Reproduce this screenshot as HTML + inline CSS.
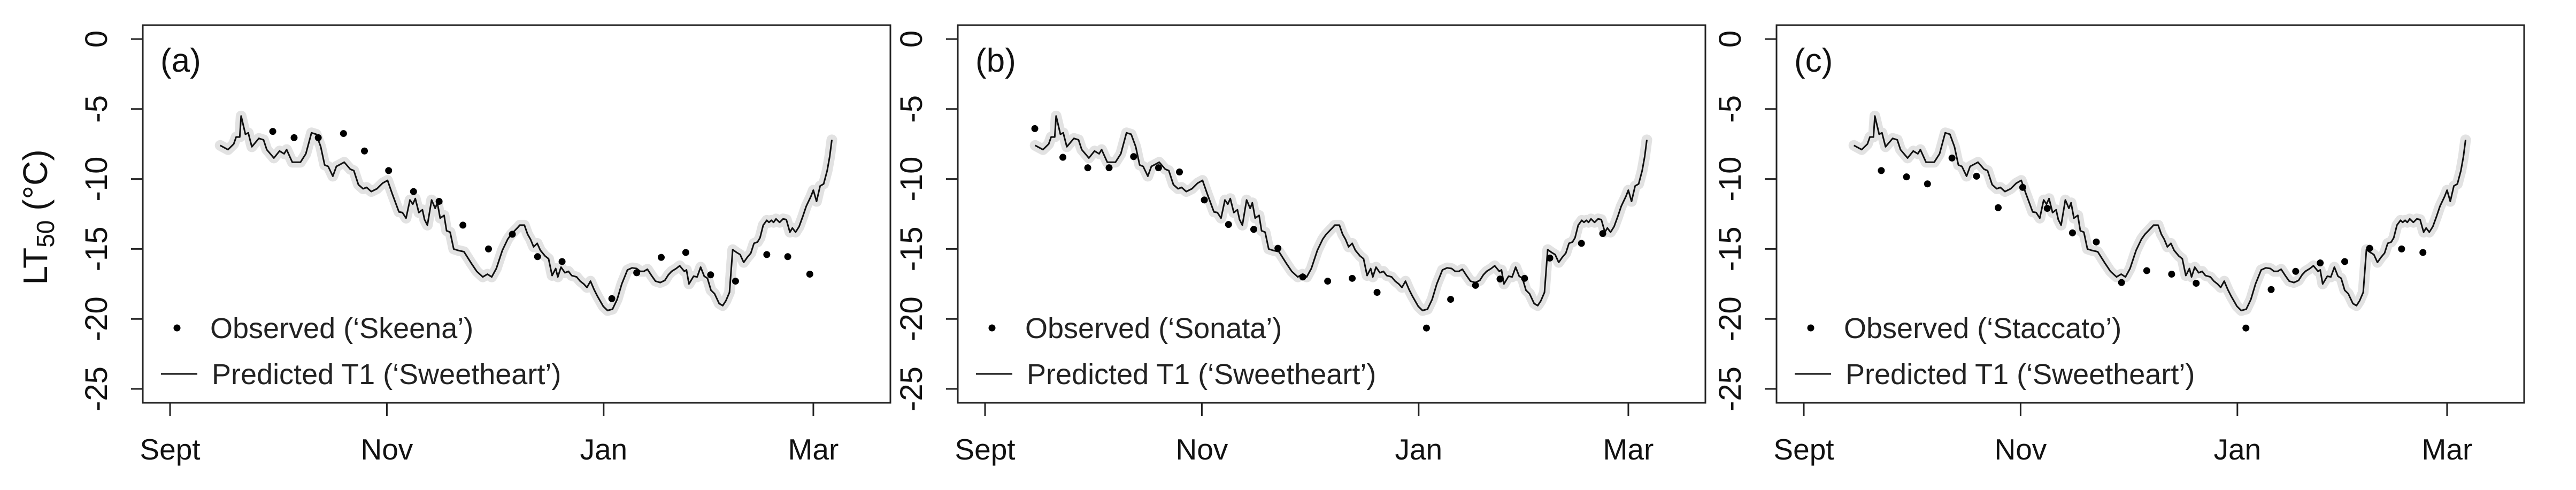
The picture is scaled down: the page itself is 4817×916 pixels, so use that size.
<!DOCTYPE html>
<html><head><meta charset="utf-8"><style>
html,body{margin:0;padding:0;background:#fff;}
svg{display:block;}
text{font-family:"Liberation Sans",Arial,sans-serif;}
</style></head><body>
<svg id="chart" width="4817" height="916" viewBox="0 0 4817 916" xmlns="http://www.w3.org/2000/svg"></svg>
<script>
// ---- data ----
const monthTickLabels = ["Sept","Nov","Jan","Mar"];
const monthTickDays = [0,61,122,181];
const yTickValues = [0,-5,-10,-15,-20,-25];
const panelLetters = ["(a)","(b)","(c)"];
const cultivarNames = ["Skeena","Sonata","Staccato"];
// Predicted T1 ('Sweetheart') — same curve in all panels
const predDays = [14.1,16.3,17.9,18.6,19.6,20.0,21.2,22.0,23.0,25.0,26.3,27.2,29.2,30.8,32.1,32.8,34.4,36.7,38.2,39.8,41.1,42.4,43.5,44.5,45.8,46.8,48.3,49.0,50.7,51.7,53.0,54.3,55.3,56.6,58.2,59.8,61.2,62.5,64.4,65.4,66.4,67.5,68.3,69.0,70.0,71.0,71.6,72.4,73.6,74.6,75.2,76.0,77.1,77.8,78.8,79.8,81.0,82.7,84.7,86.3,88.0,89.3,90.5,91.8,93.5,95.0,96.0,97.7,98.4,99.7,100.6,101.4,102.3,103.3,104.2,105.5,106.5,107.5,108.5,109.1,110.0,111.1,112.1,113.0,114.4,115.4,116.4,117.3,118.3,119.3,120.3,121.9,123.1,124.5,125.8,127.1,128.7,130.0,131.3,132.3,133.3,134.3,135.6,136.6,137.9,139.2,140.2,141.1,142.4,143.4,144.7,145.3,146.0,147.3,148.3,149.3,150.3,151.2,152.2,153.2,154.5,155.5,156.4,157.4,158.3,159.4,160.4,161.4,162.4,163.4,164.3,165.3,166.0,166.9,167.9,168.5,169.2,169.8,170.5,171.5,172.5,173.4,174.4,175.1,176.0,177.0,178.0,179.0,180.3,181.0,181.9,182.9,183.9,184.9,185.6,186.2];
const predValues = [-7.6,-7.9,-7.5,-7.0,-7.0,-5.5,-6.8,-6.7,-7.7,-7.1,-7.2,-7.9,-8.5,-8.0,-8.2,-7.9,-8.8,-8.8,-8.2,-6.7,-6.8,-7.7,-9.0,-9.1,-9.8,-9.1,-8.9,-8.8,-9.3,-9.4,-10.4,-10.7,-10.6,-10.9,-10.7,-10.3,-10.1,-11.05,-12.35,-12.4,-12.8,-11.5,-11.8,-11.4,-12.4,-12.2,-12.9,-13.3,-11.5,-12.1,-11.7,-12.8,-12.6,-13.7,-13.8,-15.0,-15.1,-15.2,-16.0,-16.6,-17.0,-16.8,-17.0,-16.4,-15.1,-14.3,-13.95,-13.5,-13.3,-13.3,-13.95,-14.3,-14.85,-14.6,-15.1,-15.5,-15.7,-16.9,-16.4,-17.0,-16.3,-16.7,-16.6,-16.9,-17.0,-17.3,-17.5,-17.75,-17.3,-17.9,-18.4,-19.1,-19.4,-19.3,-18.6,-17.5,-16.5,-16.35,-16.4,-16.6,-16.6,-16.45,-16.95,-17.3,-17.4,-17.25,-16.85,-16.6,-16.4,-16.2,-16.6,-16.5,-17.5,-16.95,-17.0,-16.3,-16.95,-17.1,-17.95,-18.2,-18.9,-19.05,-18.7,-18.1,-15.05,-15.25,-15.4,-15.96,-15.6,-15.3,-14.6,-14.5,-14.2,-13.3,-12.95,-13.1,-12.95,-13.1,-12.85,-13.1,-12.85,-12.9,-13.8,-13.5,-13.8,-13.4,-12.7,-11.95,-11.25,-10.8,-11.6,-10.5,-10.35,-9.4,-8.4,-7.2];
// Observed
const obsDaysA = [28.9,34.9,41.7,48.8,54.7,61.5,68.5,75.7,82.4,89.6,96.3,103.4,110.3,124.3,131.3,138.2,145.1,152.1,159.1,167.9,173.8,180.0];
const obsValuesA = [-6.6,-7.05,-7.05,-6.75,-8.0,-9.4,-10.9,-11.6,-13.3,-15.0,-13.95,-15.55,-15.9,-18.55,-16.7,-15.6,-15.25,-16.85,-17.3,-15.4,-15.55,-16.8];
const obsDaysB = [14.0,21.9,28.9,34.9,41.8,48.8,54.7,61.7,68.5,75.6,82.4,89.4,96.4,103.3,110.3,124.2,131.0,138.0,144.9,151.8,158.9,167.8,173.8];
const obsValuesB = [-6.4,-8.45,-9.2,-9.2,-8.4,-9.2,-9.5,-11.5,-13.25,-13.6,-14.95,-17.0,-17.3,-17.1,-18.1,-20.65,-18.6,-17.6,-17.15,-17.1,-15.65,-14.6,-13.9];
const obsDaysC = [21.8,28.9,34.8,41.7,48.6,54.7,61.6,68.5,75.6,82.3,89.4,96.5,103.5,110.4,124.4,131.5,138.4,145.3,152.2,159.2,168.2,174.2];
const obsValuesC = [-9.4,-9.85,-10.35,-8.5,-9.8,-12.05,-10.6,-12.1,-13.85,-14.5,-17.4,-16.55,-16.8,-17.45,-20.65,-17.9,-16.6,-16.0,-15.9,-14.95,-15.0,-15.25];
const obsDaysAll = [obsDaysA, obsDaysB, obsDaysC];
const obsValuesAll = [obsValuesA, obsValuesB, obsValuesC];

// ---- layout ----
const NS = "http://www.w3.org/2000/svg";
const svg = document.getElementById('chart');
const panelOffsets = [0,1524,3055];
const boxL = 267, boxR = 1665, boxT = 47, boxB = 753;
const x0 = 318, pxPerDay = 6.646;
const y0 = 73, pxPerUnit = 26.16;
function el(tag, attrs, parent){const e=document.createElementNS(NS,tag);for(const k in attrs)e.setAttribute(k,attrs[k]);(parent||svg).appendChild(e);return e;}

panelOffsets.forEach((off,pi)=>{
  const xs = d => off + x0 + d*pxPerDay;
  const ys = v => y0 - v*pxPerUnit;
  const g = el('g',{});
  
  

  let dpath = '';
  predDays.forEach((d,i)=>{dpath += (i?'L':'M') + xs(d).toFixed(1) + ',' + ys(predValues[i]).toFixed(1);});
  const band = el('path',{d:dpath,fill:'none',stroke:'#e2e2e2','stroke-width':20,'stroke-linejoin':'round','stroke-linecap':'round'},g);
  
  
  const line = el('path',{d:dpath,fill:'none',stroke:'#111','stroke-width':3,'stroke-linejoin':'round'},g);
  
  

  obsDaysAll[pi].forEach((d,i)=>{
    const c = el('circle',{cx:xs(d),cy:ys(obsValuesAll[pi][i]),r:6.5,fill:'#000'},g);
    
    
  });

  const box = el('rect',{x:off+boxL,y:boxT,width:boxR-boxL,height:boxB-boxT,fill:'none',stroke:'#222','stroke-width':3},g);
  
  

  yTickValues.forEach(v=>{
    const t = el('line',{x1:off+245,x2:off+boxL,y1:ys(v),y2:ys(v),stroke:'#222','stroke-width':3},g);
    
    
    const tx = el('text',{x:0,y:0,'font-size':58,'text-anchor':'middle',fill:'#111',transform:`translate(${off+200},${ys(v)}) rotate(-90)`},g);
    tx.textContent = String(v);
    
    
  });
  monthTickDays.forEach((d,i)=>{
    const t = el('line',{x1:xs(d),x2:xs(d),y1:boxB,y2:778,stroke:'#222','stroke-width':3},g);
    
    
    const tx = el('text',{x:xs(d),y:859,'font-size':55,'text-anchor':'middle',fill:'#111'},g);
    tx.textContent = monthTickLabels[i];
    
    
  });

  const pl = el('text',{x:off+300,y:134,'font-size':62,fill:'#111'},g);
  pl.textContent = panelLetters[pi];
  
  

  const ld = el('circle',{cx:off+331,cy:613,r:6.5,fill:'#000'},g);
  
  
  const lt1 = el('text',{x:off+393,y:632,'font-size':54,fill:'#222'},g);
  lt1.textContent = "Observed (\u2018" + cultivarNames[pi] + "\u2019)";
  
  
  const ll = el('line',{x1:off+301,x2:off+369,y1:699,y2:699,stroke:'#111','stroke-width':3},g);
  
  
  const lt2 = el('text',{x:off+396,y:718,'font-size':54,fill:'#222'},g);
  lt2.textContent = "Predicted T1 (\u2018Sweetheart\u2019)";
  
  
});

const yt = el('text',{x:0,y:0,'font-size':64,'text-anchor':'middle',fill:'#111',transform:'translate(88,406) rotate(-90)'});


const s1 = document.createElementNS(NS,'tspan'); s1.textContent='LT'; yt.appendChild(s1);
const s2 = document.createElementNS(NS,'tspan'); s2.setAttribute('font-size','46'); s2.setAttribute('dy','13'); s2.textContent='50'; yt.appendChild(s2);
const s3 = document.createElementNS(NS,'tspan'); s3.setAttribute('dy','-13'); s3.textContent=' (\u00B0C)'; yt.appendChild(s3);
</script>
</body></html>
